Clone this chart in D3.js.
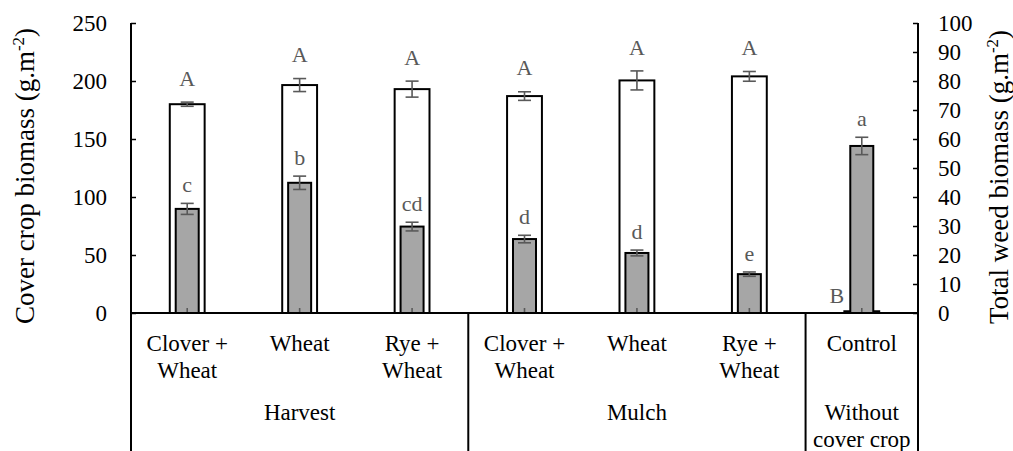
<!DOCTYPE html>
<html>
<head>
<meta charset="utf-8">
<script src="https://cdn.jsdelivr.net/npm/d3@7"></script>
<style>
  body { margin: 0; background: #fff; }
  svg { display: block; font-family: 'Liberation Serif', 'Times New Roman', serif; }
</style>
</head>
<body>
<div id="chart"></div>
<script>
const treatments = [
  ['Clover +', 'Wheat'],
  ['Wheat'],
  ['Rye +', 'Wheat'],
  ['Clover +', 'Wheat'],
  ['Wheat'],
  ['Rye +', 'Wheat'],
  ['Control'],
];
const groups = [
  ['Harvest'],
  ['Mulch'],
  ['Without', 'cover crop'],
];
const groupSizes = [3, 3, 1];

const coverBiomass = [180, 196.5, 193, 187, 200.5, 204, 1.5];
const coverError = [1.8, 5.6, 6.9, 3.7, 8.2, 4.2, 0];
const coverLetters = ['A', 'A', 'A', 'A', 'A', 'A', 'B'];

const weedBiomass = [35.9, 44.9, 29.8, 25.5, 20.7, 13.4, 57.6];
const weedError = [1.9, 2.3, 1.5, 1.3, 1.0, 0.75, 3.0];
const weedLetters = ['c', 'b', 'cd', 'd', 'd', 'e', 'a'];

const leftTicks = [0, 50, 100, 150, 200, 250];
const rightTicks = [0, 10, 20, 30, 40, 50, 60, 70, 80, 90, 100];

const WIDTH = 1013;
const HEIGHT = 451;
const plotLeft = 131;
const plotRight = 918;
const plotTop = 23;
const plotBottom = 313;
const letterColor = '#595959';

const svg = d3
  .select('#chart')
  .append('svg')
  .attr('width', WIDTH)
  .attr('height', HEIGHT);

const x = d3
  .scaleBand()
  .domain(d3.range(treatments.length))
  .range([plotLeft, plotRight])
  .paddingInner(0.69)
  .paddingOuter(0.345);

const yLeft = d3.scaleLinear().domain([0, 250]).range([plotBottom, plotTop]);
const yRight = d3.scaleLinear().domain([0, 100]).range([plotBottom, plotTop]);

const centre = (i) => x(i) + x.bandwidth() / 2;
const greyWidth = x.bandwidth() * 0.66;
const capWidth = 13;

const styleAxis = (g) => {
  g.attr('font-family', null).attr('font-size', null);
  g.select('.domain').remove();
  g.selectAll('line').attr('stroke', '#000').attr('stroke-width', 1.5);
  g.selectAll('text').attr('font-size', 23).attr('fill', '#000');
};

// axes
svg
  .append('g')
  .attr('transform', `translate(${plotLeft},0)`)
  .call(d3.axisLeft(yLeft).tickValues(leftTicks).tickSize(-5).tickPadding(24))
  .call(styleAxis);

svg
  .append('g')
  .attr('transform', `translate(${plotRight},0)`)
  .call(d3.axisRight(yRight).tickValues(rightTicks).tickSize(-5).tickPadding(20))
  .call(styleAxis);

// white bars: cover crop biomass
svg
  .append('g')
  .selectAll('rect')
  .data(coverBiomass)
  .join('rect')
  .attr('x', (_, i) => x(i))
  .attr('y', (d) => yLeft(d))
  .attr('width', x.bandwidth())
  .attr('height', (d) => plotBottom - yLeft(d))
  .attr('fill', '#fff')
  .attr('stroke', '#000')
  .attr('stroke-width', 2);

// grey bars: weed biomass
svg
  .append('g')
  .selectAll('rect')
  .data(weedBiomass)
  .join('rect')
  .attr('x', (_, i) => centre(i) - greyWidth / 2)
  .attr('y', (d) => yRight(d))
  .attr('width', greyWidth)
  .attr('height', (d) => plotBottom - yRight(d))
  .attr('fill', '#a6a6a6')
  .attr('stroke', '#000')
  .attr('stroke-width', 2);

const drawErrors = (values, errors, scale) => {
  const g = svg.append('g').attr('stroke', letterColor).attr('stroke-width', 1.6);
  values.forEach((v, i) => {
    if (!errors[i]) return;
    const cx = centre(i);
    const top = scale(v + errors[i]);
    const bottom = scale(v - errors[i]);
    g.append('line').attr('x1', cx).attr('x2', cx).attr('y1', top).attr('y2', bottom);
    [top, bottom].forEach((yy) =>
      g
        .append('line')
        .attr('x1', cx - capWidth / 2)
        .attr('x2', cx + capWidth / 2)
        .attr('y1', yy)
        .attr('y2', yy)
    );
  });
};

drawErrors(coverBiomass, coverError, yLeft);
drawErrors(weedBiomass, weedError, yRight);

// small marks at the foot of each bar
svg
  .append('g')
  .selectAll('line')
  .data(weedBiomass)
  .join('line')
  .attr('x1', (_, i) => centre(i))
  .attr('x2', (_, i) => centre(i))
  .attr('y1', plotBottom - 5)
  .attr('y2', plotBottom)
  .attr('stroke', letterColor)
  .attr('stroke-width', 1.6);

// significance letters
const upperLetters = svg.append('g');
coverLetters.forEach((letter, i) => {
  const low = coverBiomass[i] < 10;
  const cx = low ? centre(i) - 25 : centre(i);
  const cy = low ? plotBottom - 18 : yLeft(coverBiomass[i] + coverError[i]) - 24;
  if (low) {
    upperLetters
      .append('rect')
      .attr('x', cx - 11)
      .attr('y', cy - 11)
      .attr('width', 22)
      .attr('height', 22)
      .attr('fill', '#fff');
  }
  upperLetters
    .append('text')
    .attr('x', cx)
    .attr('y', cy)
    .attr('dy', '0.35em')
    .attr('text-anchor', 'middle')
    .attr('font-size', 22)
    .attr('fill', letterColor)
    .text(letter);
});

svg
  .append('g')
  .selectAll('text')
  .data(weedLetters)
  .join('text')
  .attr('x', (_, i) => centre(i))
  .attr('y', (_, i) => yRight(weedBiomass[i] + weedError[i]) - 19)
  .attr('dy', '0.35em')
  .attr('text-anchor', 'middle')
  .attr('font-size', 22)
  .attr('fill', letterColor)
  .text((d) => d);

// category axis frame
const frame = svg.append('g').attr('stroke', '#000').attr('stroke-width', 2);
frame
  .append('line')
  .attr('x1', plotLeft)
  .attr('x2', plotRight)
  .attr('y1', plotBottom)
  .attr('y2', plotBottom);
frame
  .append('line')
  .attr('x1', plotLeft)
  .attr('x2', plotLeft)
  .attr('y1', plotTop)
  .attr('y2', HEIGHT);
frame
  .append('line')
  .attr('x1', plotRight)
  .attr('x2', plotRight)
  .attr('y1', plotTop)
  .attr('y2', HEIGHT);

const groupStarts = groupSizes.map((_, gi) => d3.sum(groupSizes.slice(0, gi)));
groupStarts.slice(1).forEach((start) => {
  const bx = x(start) - (x.step() * x.paddingInner()) / 2;
  frame
    .append('line')
    .attr('x1', bx)
    .attr('x2', bx)
    .attr('y1', plotBottom)
    .attr('y2', HEIGHT);
});

// category labels
const lineGap = 27;
const catLabels = svg.append('g').attr('font-size', 23).attr('text-anchor', 'middle');
treatments.forEach((lines, i) => {
  const t = catLabels.append('text').attr('y', 343);
  lines.forEach((line, li) =>
    t
      .append('tspan')
      .attr('x', centre(i))
      .attr('dy', li === 0 ? '0.35em' : lineGap)
      .text(line)
  );
});

groups.forEach((lines, gi) => {
  const start = groupStarts[gi];
  const end = start + groupSizes[gi] - 1;
  const gx = (centre(start) + centre(end)) / 2;
  const t = catLabels.append('text').attr('y', 412);
  lines.forEach((line, li) =>
    t
      .append('tspan')
      .attr('x', gx)
      .attr('dy', li === 0 ? '0.35em' : lineGap)
      .text(line)
  );
});

// axis titles
const addTitle = (label, tx, ty) => {
  const t = svg
    .append('text')
    .attr('transform', `translate(${tx},${ty}) rotate(-90)`)
    .attr('text-anchor', 'middle')
    .attr('font-size', 27)
    .attr('dy', '0.35em');
  t.append('tspan').text(label + ' (g.m');
  t.append('tspan').attr('font-size', 17).attr('dy', -10).text('-2');
  t.append('tspan').attr('dy', 10).text(')');
};

addTitle('Cover crop biomass', 25, 176);
addTitle('Total weed biomass', 999, 177);
</script>
</body>
</html>
